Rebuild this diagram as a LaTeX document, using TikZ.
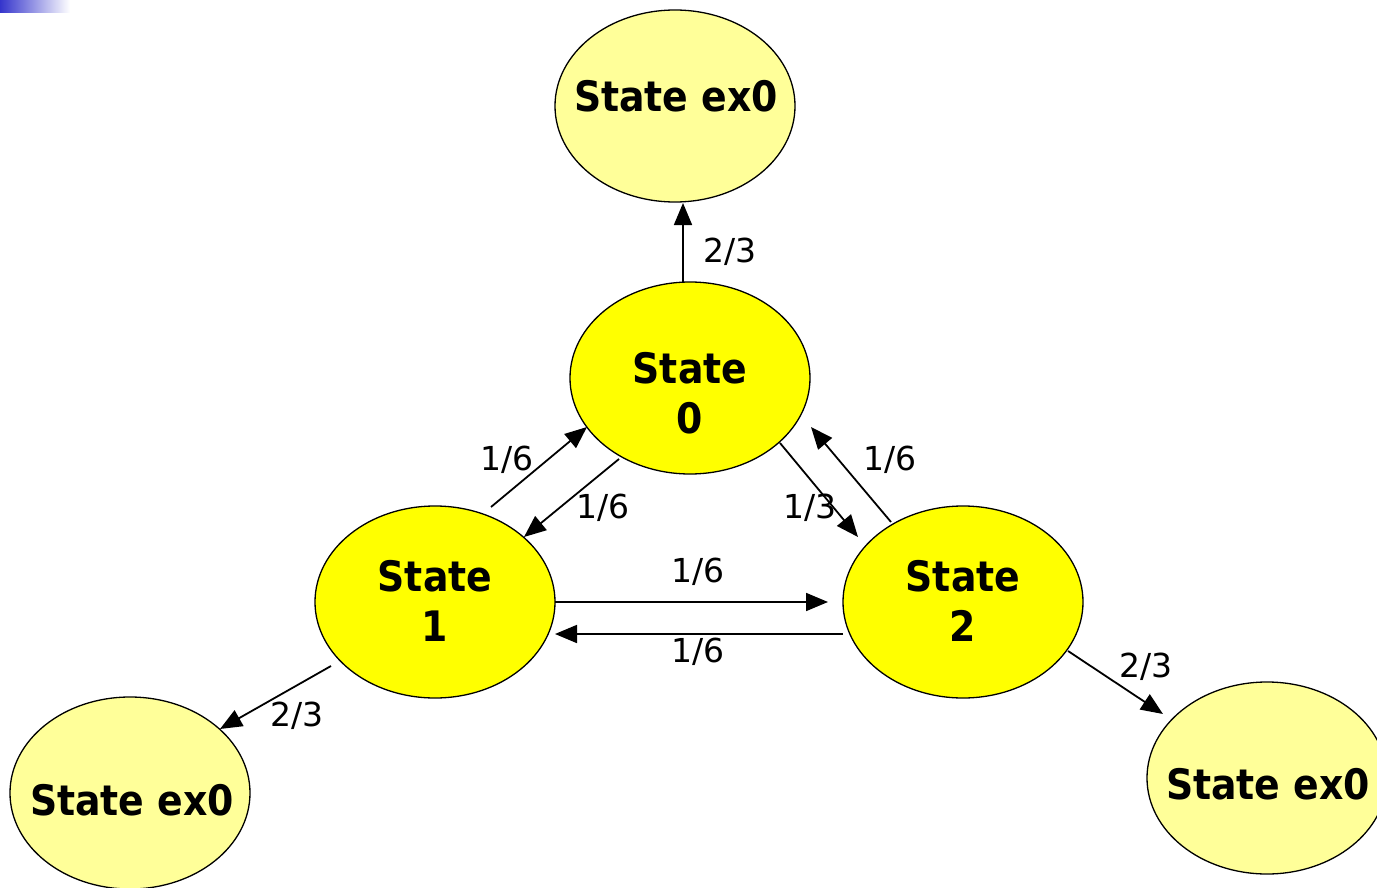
\documentclass[tikz,border=0pt]{standalone}
\usepackage{fontspec}
\setmainfont{DejaVu Sans}
\newfontfamily\statefont{DejaVu Sans Condensed}
\usetikzlibrary{shapes.geometric,arrows.meta,calc}
\definecolor{exfill}{HTML}{FFFF99}
\definecolor{stfill}{HTML}{FFFF00}
\definecolor{barblue}{HTML}{3535CC}
\tikzset{
  stnode/.style={ellipse,draw=black,line width=1.3pt,fill=stfill,minimum width=240pt,minimum height=192pt,inner sep=0pt},
  exnode/.style={stnode,fill=exfill},
  sttext/.style={inner sep=0pt,align=center,font=\statefont\bfseries\fontsize{42}{50}\selectfont},
  conn/.style={line width=1.8pt,-{Triangle[length=22pt,width=18pt]}},
  lbl/.style={font=\fontsize{33}{36}\selectfont,inner sep=0pt}
}
\begin{document}
\begin{tikzpicture}[x=1pt,y=-1pt]
\useasboundingbox (0,0) rectangle (1377,888);
\shade[left color=barblue,right color=white] (0,0) rectangle (70,13);
\node[exnode] (etop) at (675,106) {};
\node[stnode] (s0) at (690,378) {};
\node[stnode] (s1) at (435,602) {};
\node[stnode] (s2) at (963,602) {};
\node[exnode] (ebl) at (130,793) {};
\node[exnode] (ebr) at (1267,778) {};
\node[sttext] (etopt) at ($(etop)+(1,-10)$) {State ex0};
\node[sttext] (s0t) at ($(s0)+(0,15)$) {State\\0};
\node[sttext] (s1t) at ($(s1)+(0,-1)$) {State\\1};
\node[sttext] (s2t) at ($(s2)+(0,-1)$) {State\\2};
\node[sttext] (eblt) at ($(ebl)+(2,7)$) {State ex0};
\node[sttext] (ebrt) at ($(ebr)+(1,6)$) {State ex0};
% connectors
\draw[conn] ($(s0)+(-7,-95)$) -- ($(etop)+(8,97)$);
\draw[conn] ($(s1)+(56,-95)$) -- ($(s0)+(-103,49)$);
\draw[conn] ($(s0)+(-71,81)$) -- ($(s1)+(89,-65)$);
\draw[conn] ($(s0)+(90,65)$) -- ($(s2)+(-105,-65)$);
\draw[conn] ($(s2)+(-72,-80)$) -- ($(s0)+(121,49)$);
\draw[conn] ($(s1)+(120,0)$) -- ($(s2)+(-135,0)$);
\draw[conn] ($(s2)+(-120,32)$) -- ($(s1)+(120,32)$);
\draw[conn] ($(s1)+(-104,64)$) -- ($(ebl)+(90,-64)$);
\draw[conn] ($(s2)+(105,49)$) -- ($(ebr)+(-104,-64)$);
% labels
\node[lbl] (l1) at (730,252) {2/3};
\node[lbl] (l2) at (507,460) {1/6};
\node[lbl] (l3) at (603,508) {1/6};
\node[lbl] (l4) at (810,508) {1/3};
\node[lbl] (l5) at (890,460) {1/6};
\node[lbl] (l6) at (698,572) {1/6};
\node[lbl] (l7) at (698,652) {1/6};
\node[lbl] (l8) at (297,716) {2/3};
\node[lbl] (l9) at (1146,667) {2/3};
\end{tikzpicture}
\end{document}
